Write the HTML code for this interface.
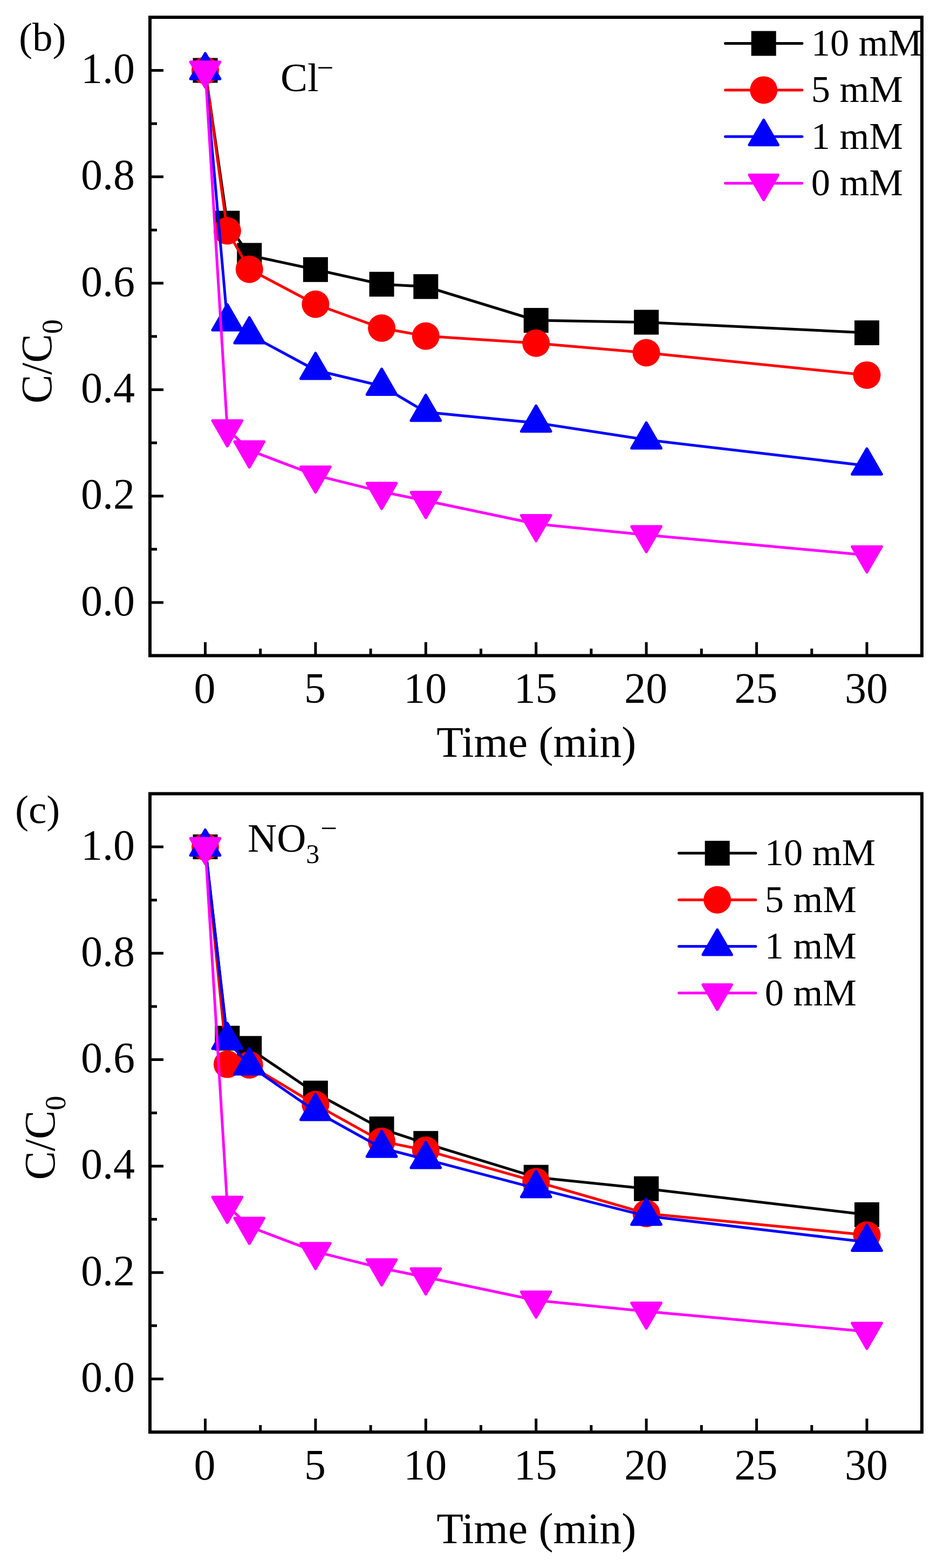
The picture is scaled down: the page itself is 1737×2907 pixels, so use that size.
<!DOCTYPE html>
<html><head><meta charset="utf-8"><title>C/C0 vs Time</title>
<style>
html,body{margin:0;padding:0;background:#fff;}
body{width:1737px;height:2907px;overflow:hidden;}
svg{display:block;}
text{font-family:"Liberation Serif","Times New Roman",serif;fill:#000;}
.tl{font-size:80px;}
.at{font-size:80px;}
.tt{font-size:81.4px;}
.sub{font-size:54px;}
.sub2{font-size:50px;}
.lg{font-size:70.4px;}
.ion{font-size:75px;}
.sup{font-size:55px;}
.pl{font-size:75px;}
</style></head>
<body>
<svg width="1737" height="2907" viewBox="0 0 1737 2907">
<rect width="1737" height="2907" fill="#fff"/>
<g transform="translate(0,0)">
<polyline points="380.5,130.5 421.38,413.75 462.27,473.4 584.91,499.8 707.56,526.9 789.33,531.3 993.75,593.9 1198.16,597.4 1606.99,617" fill="none" stroke="#000000" stroke-width="5" stroke-linejoin="miter"/>
<rect x="357.5" y="107.5" width="46" height="46" fill="#000000"/>
<rect x="398.38" y="390.75" width="46" height="46" fill="#000000"/>
<rect x="439.27" y="450.4" width="46" height="46" fill="#000000"/>
<rect x="561.91" y="476.8" width="46" height="46" fill="#000000"/>
<rect x="684.56" y="503.9" width="46" height="46" fill="#000000"/>
<rect x="766.33" y="508.3" width="46" height="46" fill="#000000"/>
<rect x="970.75" y="570.9" width="46" height="46" fill="#000000"/>
<rect x="1175.16" y="574.4" width="46" height="46" fill="#000000"/>
<rect x="1583.99" y="594" width="46" height="46" fill="#000000"/>
<polyline points="380.5,130.5 421.38,428 462.27,499.2 584.91,564 707.56,608.3 789.33,623.1 993.75,636.2 1198.16,654 1606.99,695.4" fill="none" stroke="#ff0000" stroke-width="5" stroke-linejoin="miter"/>
<circle cx="380.5" cy="130.5" r="25.5" fill="#ff0000"/>
<circle cx="421.38" cy="428" r="25.5" fill="#ff0000"/>
<circle cx="462.27" cy="499.2" r="25.5" fill="#ff0000"/>
<circle cx="584.91" cy="564" r="25.5" fill="#ff0000"/>
<circle cx="707.56" cy="608.3" r="25.5" fill="#ff0000"/>
<circle cx="789.33" cy="623.1" r="25.5" fill="#ff0000"/>
<circle cx="993.75" cy="636.2" r="25.5" fill="#ff0000"/>
<circle cx="1198.16" cy="654" r="25.5" fill="#ff0000"/>
<circle cx="1606.99" cy="695.4" r="25.5" fill="#ff0000"/>
<polyline points="380.5,130.5 421.38,596.1 462.27,620.3 584.91,686.3 707.56,715.6 789.33,764 993.75,783.9 1198.16,815.2 1606.99,863.4" fill="none" stroke="#0000ff" stroke-width="5" stroke-linejoin="miter"/>
<polygon points="380.5,98.9 407.87,146.3 353.13,146.3" fill="#0000ff" stroke="#0000ff" stroke-width="5" stroke-linejoin="round"/>
<polygon points="421.38,564.5 448.75,611.9 394.02,611.9" fill="#0000ff" stroke="#0000ff" stroke-width="5" stroke-linejoin="round"/>
<polygon points="462.27,588.7 489.63,636.1 434.9,636.1" fill="#0000ff" stroke="#0000ff" stroke-width="5" stroke-linejoin="round"/>
<polygon points="584.91,654.7 612.28,702.1 557.55,702.1" fill="#0000ff" stroke="#0000ff" stroke-width="5" stroke-linejoin="round"/>
<polygon points="707.56,684 734.93,731.4 680.2,731.4" fill="#0000ff" stroke="#0000ff" stroke-width="5" stroke-linejoin="round"/>
<polygon points="789.33,732.4 816.7,779.8 761.96,779.8" fill="#0000ff" stroke="#0000ff" stroke-width="5" stroke-linejoin="round"/>
<polygon points="993.75,752.3 1021.11,799.7 966.38,799.7" fill="#0000ff" stroke="#0000ff" stroke-width="5" stroke-linejoin="round"/>
<polygon points="1198.16,783.6 1225.53,831 1170.79,831" fill="#0000ff" stroke="#0000ff" stroke-width="5" stroke-linejoin="round"/>
<polygon points="1606.99,831.8 1634.36,879.2 1579.62,879.2" fill="#0000ff" stroke="#0000ff" stroke-width="5" stroke-linejoin="round"/>
<polyline points="380.5,130.5 421.38,795.6 462.27,834.6 584.91,881.2 707.56,911.6 789.33,928.3 993.75,971.2 1198.16,991.7 1606.99,1029.2" fill="none" stroke="#ff00ff" stroke-width="5" stroke-linejoin="miter"/>
<polygon points="380.5,162.1 407.87,114.7 353.13,114.7" fill="#ff00ff" stroke="#ff00ff" stroke-width="5" stroke-linejoin="round"/>
<polygon points="421.38,827.2 448.75,779.8 394.02,779.8" fill="#ff00ff" stroke="#ff00ff" stroke-width="5" stroke-linejoin="round"/>
<polygon points="462.27,866.2 489.63,818.8 434.9,818.8" fill="#ff00ff" stroke="#ff00ff" stroke-width="5" stroke-linejoin="round"/>
<polygon points="584.91,912.8 612.28,865.4 557.55,865.4" fill="#ff00ff" stroke="#ff00ff" stroke-width="5" stroke-linejoin="round"/>
<polygon points="707.56,943.2 734.93,895.8 680.2,895.8" fill="#ff00ff" stroke="#ff00ff" stroke-width="5" stroke-linejoin="round"/>
<polygon points="789.33,959.9 816.7,912.5 761.96,912.5" fill="#ff00ff" stroke="#ff00ff" stroke-width="5" stroke-linejoin="round"/>
<polygon points="993.75,1002.8 1021.11,955.4 966.38,955.4" fill="#ff00ff" stroke="#ff00ff" stroke-width="5" stroke-linejoin="round"/>
<polygon points="1198.16,1023.3 1225.53,975.9 1170.79,975.9" fill="#ff00ff" stroke="#ff00ff" stroke-width="5" stroke-linejoin="round"/>
<polygon points="1606.99,1060.8 1634.36,1013.4 1579.62,1013.4" fill="#ff00ff" stroke="#ff00ff" stroke-width="5" stroke-linejoin="round"/>
<rect x="278" y="32" width="1431" height="1183.5" fill="none" stroke="#000" stroke-width="6"/>
<path d="M380.5 1213.5V1190.5M584.91 1213.5V1190.5M789.33 1213.5V1190.5M993.75 1213.5V1190.5M1198.16 1213.5V1190.5M1402.58 1213.5V1190.5M1606.99 1213.5V1190.5M482.71 1213.5V1202.5M687.12 1213.5V1202.5M891.54 1213.5V1202.5M1095.95 1213.5V1202.5M1300.37 1213.5V1202.5M1504.78 1213.5V1202.5M280 1117H303M280 919.7H303M280 722.4H303M280 525.1H303M280 327.8H303M280 130.5H303M280 1018.35H291M280 821.05H291M280 623.75H291M280 426.45H291M280 229.15H291" stroke="#000" stroke-width="5" fill="none"/>
<text x="250" y="1140.5" class="tl" text-anchor="end">0.0</text>
<text x="250" y="943.2" class="tl" text-anchor="end">0.2</text>
<text x="250" y="745.9" class="tl" text-anchor="end">0.4</text>
<text x="250" y="548.6" class="tl" text-anchor="end">0.6</text>
<text x="250" y="351.3" class="tl" text-anchor="end">0.8</text>
<text x="250" y="154" class="tl" text-anchor="end">1.0</text>
<text x="379.5" y="1303" class="tl" text-anchor="middle">0</text>
<text x="583.91" y="1303" class="tl" text-anchor="middle">5</text>
<text x="788.33" y="1303" class="tl" text-anchor="middle">10</text>
<text x="992.75" y="1303" class="tl" text-anchor="middle">15</text>
<text x="1197.16" y="1303" class="tl" text-anchor="middle">20</text>
<text x="1401.58" y="1303" class="tl" text-anchor="middle">25</text>
<text x="1605.99" y="1303" class="tl" text-anchor="middle">30</text>
<text x="994.2" y="1403" class="at tt" text-anchor="middle">Time (min)</text>
<text transform="translate(95,748) rotate(-90)" class="at">C/C<tspan class="sub" dy="20">0</tspan></text>
<text x="35" y="94.2" class="pl">(b)</text>
<text x="520" y="169" class="ion">Cl<tspan class="sup" dx="-3.7" dy="-25.1">−</tspan></text>
<line x1="1344.5" y1="80.5" x2="1486.9" y2="80.5" stroke="#000000" stroke-width="5" stroke-linecap="round"/>
<rect x="1392.7" y="57.5" width="46" height="46" fill="#000000"/>
<text x="1503.7" y="103" class="lg">10 mM</text>
<line x1="1344.5" y1="166.9" x2="1486.9" y2="166.9" stroke="#ff0000" stroke-width="5" stroke-linecap="round"/>
<circle cx="1415.7" cy="166.9" r="25.5" fill="#ff0000"/>
<text x="1503.7" y="189.4" class="lg">5 mM</text>
<line x1="1344.5" y1="253.3" x2="1486.9" y2="253.3" stroke="#0000ff" stroke-width="5" stroke-linecap="round"/>
<polygon points="1415.7,222.33 1442.52,268.78 1388.88,268.78" fill="#0000ff" stroke="#0000ff" stroke-width="4.9" stroke-linejoin="round"/>
<text x="1503.7" y="275.8" class="lg">1 mM</text>
<line x1="1344.5" y1="339.7" x2="1486.9" y2="339.7" stroke="#ff00ff" stroke-width="5" stroke-linecap="round"/>
<polygon points="1415.7,370.67 1442.52,324.22 1388.88,324.22" fill="#ff00ff" stroke="#ff00ff" stroke-width="4.9" stroke-linejoin="round"/>
<text x="1503.7" y="362.2" class="lg">0 mM</text>
</g>
<g transform="translate(0,1439.5)">
<polyline points="380.5,130.5 421.38,485.25 462.27,504.2 584.91,587 707.56,653.4 789.33,680.3 993.75,743.1 1198.16,764.3 1606.99,812.5" fill="none" stroke="#000000" stroke-width="5" stroke-linejoin="miter"/>
<rect x="357.5" y="107.5" width="46" height="46" fill="#000000"/>
<rect x="398.38" y="462.25" width="46" height="46" fill="#000000"/>
<rect x="439.27" y="481.2" width="46" height="46" fill="#000000"/>
<rect x="561.91" y="564" width="46" height="46" fill="#000000"/>
<rect x="684.56" y="630.4" width="46" height="46" fill="#000000"/>
<rect x="766.33" y="657.3" width="46" height="46" fill="#000000"/>
<rect x="970.75" y="720.1" width="46" height="46" fill="#000000"/>
<rect x="1175.16" y="741.3" width="46" height="46" fill="#000000"/>
<rect x="1583.99" y="789.5" width="46" height="46" fill="#000000"/>
<polyline points="380.5,130.5 421.38,533.6 462.27,534.8 584.91,608.2 707.56,676.4 789.33,693.1 993.75,751.2 1198.16,810.2 1606.99,850.2" fill="none" stroke="#ff0000" stroke-width="5" stroke-linejoin="miter"/>
<circle cx="380.5" cy="130.5" r="25.5" fill="#ff0000"/>
<circle cx="421.38" cy="533.6" r="25.5" fill="#ff0000"/>
<circle cx="462.27" cy="534.8" r="25.5" fill="#ff0000"/>
<circle cx="584.91" cy="608.2" r="25.5" fill="#ff0000"/>
<circle cx="707.56" cy="676.4" r="25.5" fill="#ff0000"/>
<circle cx="789.33" cy="693.1" r="25.5" fill="#ff0000"/>
<circle cx="993.75" cy="751.2" r="25.5" fill="#ff0000"/>
<circle cx="1198.16" cy="810.2" r="25.5" fill="#ff0000"/>
<circle cx="1606.99" cy="850.2" r="25.5" fill="#ff0000"/>
<polyline points="380.5,130.5 421.38,488.9 462.27,536.1 584.91,620.8 707.56,689 789.33,709.8 993.75,763.7 1198.16,814.9 1606.99,863.2" fill="none" stroke="#0000ff" stroke-width="5" stroke-linejoin="miter"/>
<polygon points="380.5,98.9 407.87,146.3 353.13,146.3" fill="#0000ff" stroke="#0000ff" stroke-width="5" stroke-linejoin="round"/>
<polygon points="421.38,457.3 448.75,504.7 394.02,504.7" fill="#0000ff" stroke="#0000ff" stroke-width="5" stroke-linejoin="round"/>
<polygon points="462.27,504.5 489.63,551.9 434.9,551.9" fill="#0000ff" stroke="#0000ff" stroke-width="5" stroke-linejoin="round"/>
<polygon points="584.91,589.2 612.28,636.6 557.55,636.6" fill="#0000ff" stroke="#0000ff" stroke-width="5" stroke-linejoin="round"/>
<polygon points="707.56,657.4 734.93,704.8 680.2,704.8" fill="#0000ff" stroke="#0000ff" stroke-width="5" stroke-linejoin="round"/>
<polygon points="789.33,678.2 816.7,725.6 761.96,725.6" fill="#0000ff" stroke="#0000ff" stroke-width="5" stroke-linejoin="round"/>
<polygon points="993.75,732.1 1021.11,779.5 966.38,779.5" fill="#0000ff" stroke="#0000ff" stroke-width="5" stroke-linejoin="round"/>
<polygon points="1198.16,783.3 1225.53,830.7 1170.79,830.7" fill="#0000ff" stroke="#0000ff" stroke-width="5" stroke-linejoin="round"/>
<polygon points="1606.99,831.6 1634.36,879 1579.62,879" fill="#0000ff" stroke="#0000ff" stroke-width="5" stroke-linejoin="round"/>
<polyline points="380.5,130.5 421.38,795.6 462.27,834.6 584.91,881.2 707.56,911.6 789.33,928.3 993.75,971.2 1198.16,991.7 1606.99,1029.2" fill="none" stroke="#ff00ff" stroke-width="5" stroke-linejoin="miter"/>
<polygon points="380.5,162.1 407.87,114.7 353.13,114.7" fill="#ff00ff" stroke="#ff00ff" stroke-width="5" stroke-linejoin="round"/>
<polygon points="421.38,827.2 448.75,779.8 394.02,779.8" fill="#ff00ff" stroke="#ff00ff" stroke-width="5" stroke-linejoin="round"/>
<polygon points="462.27,866.2 489.63,818.8 434.9,818.8" fill="#ff00ff" stroke="#ff00ff" stroke-width="5" stroke-linejoin="round"/>
<polygon points="584.91,912.8 612.28,865.4 557.55,865.4" fill="#ff00ff" stroke="#ff00ff" stroke-width="5" stroke-linejoin="round"/>
<polygon points="707.56,943.2 734.93,895.8 680.2,895.8" fill="#ff00ff" stroke="#ff00ff" stroke-width="5" stroke-linejoin="round"/>
<polygon points="789.33,959.9 816.7,912.5 761.96,912.5" fill="#ff00ff" stroke="#ff00ff" stroke-width="5" stroke-linejoin="round"/>
<polygon points="993.75,1002.8 1021.11,955.4 966.38,955.4" fill="#ff00ff" stroke="#ff00ff" stroke-width="5" stroke-linejoin="round"/>
<polygon points="1198.16,1023.3 1225.53,975.9 1170.79,975.9" fill="#ff00ff" stroke="#ff00ff" stroke-width="5" stroke-linejoin="round"/>
<polygon points="1606.99,1060.8 1634.36,1013.4 1579.62,1013.4" fill="#ff00ff" stroke="#ff00ff" stroke-width="5" stroke-linejoin="round"/>
<rect x="278" y="32" width="1431" height="1183.5" fill="none" stroke="#000" stroke-width="6"/>
<path d="M380.5 1213.5V1190.5M584.91 1213.5V1190.5M789.33 1213.5V1190.5M993.75 1213.5V1190.5M1198.16 1213.5V1190.5M1402.58 1213.5V1190.5M1606.99 1213.5V1190.5M482.71 1213.5V1202.5M687.12 1213.5V1202.5M891.54 1213.5V1202.5M1095.95 1213.5V1202.5M1300.37 1213.5V1202.5M1504.78 1213.5V1202.5M280 1117H303M280 919.7H303M280 722.4H303M280 525.1H303M280 327.8H303M280 130.5H303M280 1018.35H291M280 821.05H291M280 623.75H291M280 426.45H291M280 229.15H291" stroke="#000" stroke-width="5" fill="none"/>
<text x="250" y="1140.5" class="tl" text-anchor="end">0.0</text>
<text x="250" y="943.2" class="tl" text-anchor="end">0.2</text>
<text x="250" y="745.9" class="tl" text-anchor="end">0.4</text>
<text x="250" y="548.6" class="tl" text-anchor="end">0.6</text>
<text x="250" y="351.3" class="tl" text-anchor="end">0.8</text>
<text x="250" y="154" class="tl" text-anchor="end">1.0</text>
<text x="379.5" y="1303" class="tl" text-anchor="middle">0</text>
<text x="583.91" y="1303" class="tl" text-anchor="middle">5</text>
<text x="788.33" y="1303" class="tl" text-anchor="middle">10</text>
<text x="992.75" y="1303" class="tl" text-anchor="middle">15</text>
<text x="1197.16" y="1303" class="tl" text-anchor="middle">20</text>
<text x="1401.58" y="1303" class="tl" text-anchor="middle">25</text>
<text x="1605.99" y="1303" class="tl" text-anchor="middle">30</text>
<text x="994.2" y="1421.4" class="at tt" text-anchor="middle">Time (min)</text>
<text transform="translate(101,748) rotate(-90)" class="at">C/C<tspan class="sub" dy="20">0</tspan></text>
<text x="28" y="86.1" class="pl">(c)</text>
<text x="459" y="1579" class="ion" transform="translate(0,-1439.5)">NO<tspan class="sub2" dy="21">3</tspan><tspan class="sup" dx="1.7" dy="-46.2">−</tspan></text>
<line x1="1258.5" y1="142.3" x2="1400.9" y2="142.3" stroke="#000000" stroke-width="5" stroke-linecap="round"/>
<rect x="1306.7" y="119.3" width="46" height="46" fill="#000000"/>
<text x="1417.7" y="164.8" class="lg">10 mM</text>
<line x1="1258.5" y1="228.7" x2="1400.9" y2="228.7" stroke="#ff0000" stroke-width="5" stroke-linecap="round"/>
<circle cx="1329.7" cy="228.7" r="25.5" fill="#ff0000"/>
<text x="1417.7" y="251.2" class="lg">5 mM</text>
<line x1="1258.5" y1="315.1" x2="1400.9" y2="315.1" stroke="#0000ff" stroke-width="5" stroke-linecap="round"/>
<polygon points="1329.7,284.13 1356.52,330.58 1302.88,330.58" fill="#0000ff" stroke="#0000ff" stroke-width="4.9" stroke-linejoin="round"/>
<text x="1417.7" y="337.6" class="lg">1 mM</text>
<line x1="1258.5" y1="401.5" x2="1400.9" y2="401.5" stroke="#ff00ff" stroke-width="5" stroke-linecap="round"/>
<polygon points="1329.7,432.47 1356.52,386.02 1302.88,386.02" fill="#ff00ff" stroke="#ff00ff" stroke-width="4.9" stroke-linejoin="round"/>
<text x="1417.7" y="424" class="lg">0 mM</text>
</g>
</svg>
</body></html>
